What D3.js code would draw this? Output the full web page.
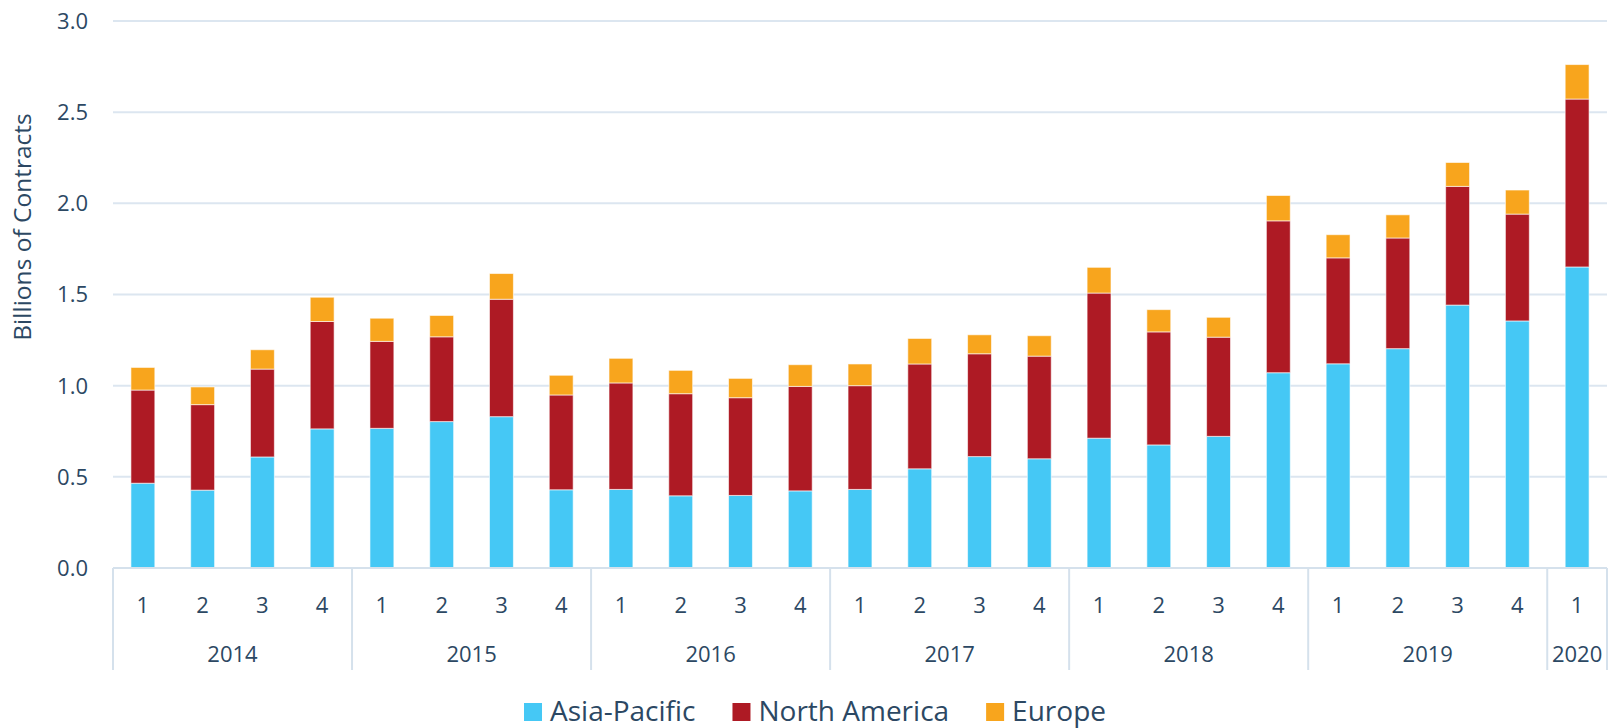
<!DOCTYPE html>
<html>
<head>
<meta charset="utf-8">
<script src="https://cdn.jsdelivr.net/npm/d3@7"></script>
<style>
  body { margin: 0; background: #fff; }
  text { font-family: "Open Sans", "Noto Sans", sans-serif; fill: #2c4863; }
</style>
</head>
<body>
<div class="chart"></div>
<script>
// quarters and the year each one belongs to
var quarters = ["1", "2", "3", "4", "1", "2", "3", "4", "1", "2", "3", "4", "1", "2", "3", "4",
    "1", "2", "3", "4", "1", "2", "3", "4", "1"];
var years = ["2014", "2015", "2016", "2017", "2018", "2019", "2020"];
var quartersPerYear = [4, 4, 4, 4, 4, 4, 1];

// billions of contracts per region
var asiaPacific = [0.465, 0.427, 0.609, 0.763, 0.766, 0.803, 0.830, 0.429, 0.431, 0.396, 0.398, 0.423,
    0.431, 0.544, 0.611, 0.599, 0.712, 0.675, 0.722, 1.071, 1.120, 1.203, 1.442, 1.355, 1.651];
var northAmerica = [0.511, 0.469, 0.482, 0.589, 0.477, 0.465, 0.644, 0.520, 0.584, 0.560, 0.536, 0.573,
    0.569, 0.575, 0.564, 0.563, 0.796, 0.620, 0.544, 0.833, 0.581, 0.607, 0.651, 0.586, 0.921];
var europe = [0.124, 0.097, 0.106, 0.133, 0.127, 0.117, 0.141, 0.108, 0.135, 0.128, 0.106, 0.119,
    0.119, 0.140, 0.104, 0.112, 0.141, 0.122, 0.109, 0.139, 0.127, 0.127, 0.131, 0.132, 0.189];

var seriesNames = ["Asia-Pacific", "North America", "Europe"];
var yTicks = [0, 0.5, 1.0, 1.5, 2.0, 2.5, 3.0];

var colors = { "Asia-Pacific": "#45c8f5", "North America": "#ae1a24", "Europe": "#f8a51d" };

var W = 1615, H = 728;
var margin = { top: 21, right: 8, bottom: 160, left: 113 };
var width = W - margin.left - margin.right,
    height = H - margin.top - margin.bottom;

var svg = d3.select(".chart").append("svg")
    .attr("width", W)
    .attr("height", H);

var g = svg.append("g")
    .attr("transform", "translate(" + margin.left + "," + margin.top + ")");

// build rows for the stack
var rows = quarters.map(function (q, i) {
    return { i: i, "Asia-Pacific": asiaPacific[i], "North America": northAmerica[i], "Europe": europe[i] };
});

var x = d3.scaleBand()
    .domain(d3.range(quarters.length))
    .range([0, width])
    .paddingInner(0.6)
    .paddingOuter(0.3);

var y = d3.scaleLinear().domain([0, 3]).range([height, 0]);

// grid lines
g.append("g")
    .selectAll("line")
    .data(yTicks.slice(1))
    .enter().append("line")
    .attr("x1", 0).attr("x2", width)
    .attr("y1", function (d) { return y(d); })
    .attr("y2", function (d) { return y(d); })
    .attr("stroke", "#dce6f0")
    .attr("stroke-width", 2);

// y tick labels
g.append("g")
    .selectAll("text")
    .data(yTicks)
    .enter().append("text")
    .attr("x", -25)
    .attr("y", function (d) { return y(d); })
    .attr("dy", "0.36em")
    .attr("text-anchor", "end")
    .style("font-size", "22px")
    .text(d3.format(".1f"));

// y axis title
svg.append("text")
    .attr("transform", "translate(31,227) rotate(-90)")
    .attr("text-anchor", "middle")
    .style("font-size", "24.5px")
    .text("Billions of Contracts");

// stacked bars
var stack = d3.stack().keys(seriesNames);
var layers = stack(rows);

g.selectAll(".layer")
    .data(layers)
    .enter().append("g")
    .attr("class", "layer")
    .attr("fill", function (d) { return colors[d.key]; })
    .selectAll("rect")
    .data(function (d) { return d; })
    .enter().append("rect")
    .attr("x", function (d) { return x(d.data.i); })
    .attr("width", x.bandwidth())
    .attr("y", function (d) { return y(d[1]); })
    .attr("height", function (d) { return y(d[0]) - y(d[1]); })
    .attr("stroke", "#fff")
    .attr("stroke-opacity", 0.6)
    .attr("stroke-width", 1);

// baseline
g.append("line")
    .attr("x1", 0).attr("x2", width)
    .attr("y1", height).attr("y2", height)
    .attr("stroke", "#d5e1ec")
    .attr("stroke-width", 2);

// quarter labels
g.append("g")
    .selectAll("text")
    .data(quarters)
    .enter().append("text")
    .attr("x", function (d, i) { return x(i) + x.bandwidth() / 2; })
    .attr("y", height + 45)
    .attr("text-anchor", "middle")
    .style("font-size", "22px")
    .text(function (d) { return d; });

// year groups with separator lines
var start = 0, groups = [];
years.forEach(function (yr, k) {
    groups.push({ year: yr, from: start, to: start + quartersPerYear[k] });
    start += quartersPerYear[k];
});
var step = x.step();
// left edge of a quarter's slot (0 and the end snap to the plot edges)
function bandEdge(idx) {
    if (idx === 0) return 0;
    if (idx === quarters.length) return width;
    return x(idx) - (step - x.bandwidth()) / 2;
}

var sepX = [0].concat(groups.map(function (gr) { return bandEdge(gr.to); }));
g.append("g")
    .selectAll("line")
    .data(sepX)
    .enter().append("line")
    .attr("x1", function (d) { return d; })
    .attr("x2", function (d) { return d; })
    .attr("y1", height)
    .attr("y2", height + 102)
    .attr("stroke", "#d5e1ec")
    .attr("stroke-width", 2);

g.append("g")
    .selectAll("text")
    .data(groups)
    .enter().append("text")
    .attr("x", function (d) { return (bandEdge(d.from) + bandEdge(d.to)) / 2; })
    .attr("y", height + 94)
    .attr("text-anchor", "middle")
    .style("font-size", "22px")
    .text(function (d) { return d.year; });

// legend
var legend = svg.append("g").attr("transform", "translate(0,721)");
var lx = 0;
var items = legend.selectAll(".item")
    .data(seriesNames)
    .enter().append("g")
    .attr("class", "item");
items.append("rect")
    .attr("width", 18).attr("height", 18)
    .attr("y", -18)
    .attr("fill", function (d) { return colors[d]; });
items.append("text")
    .attr("x", 26)
    .attr("y", 0)
    .style("font-size", "28px")
    .text(function (d) { return d; });
items.each(function () {
    var node = d3.select(this);
    node.attr("transform", "translate(" + lx + ",0)");
    lx += 26 + node.select("text").node().getComputedTextLength() + 37;
});
lx -= 37;
legend.attr("transform", "translate(" + (815 - lx / 2) + ",721)");
</script>
</body>
</html>
